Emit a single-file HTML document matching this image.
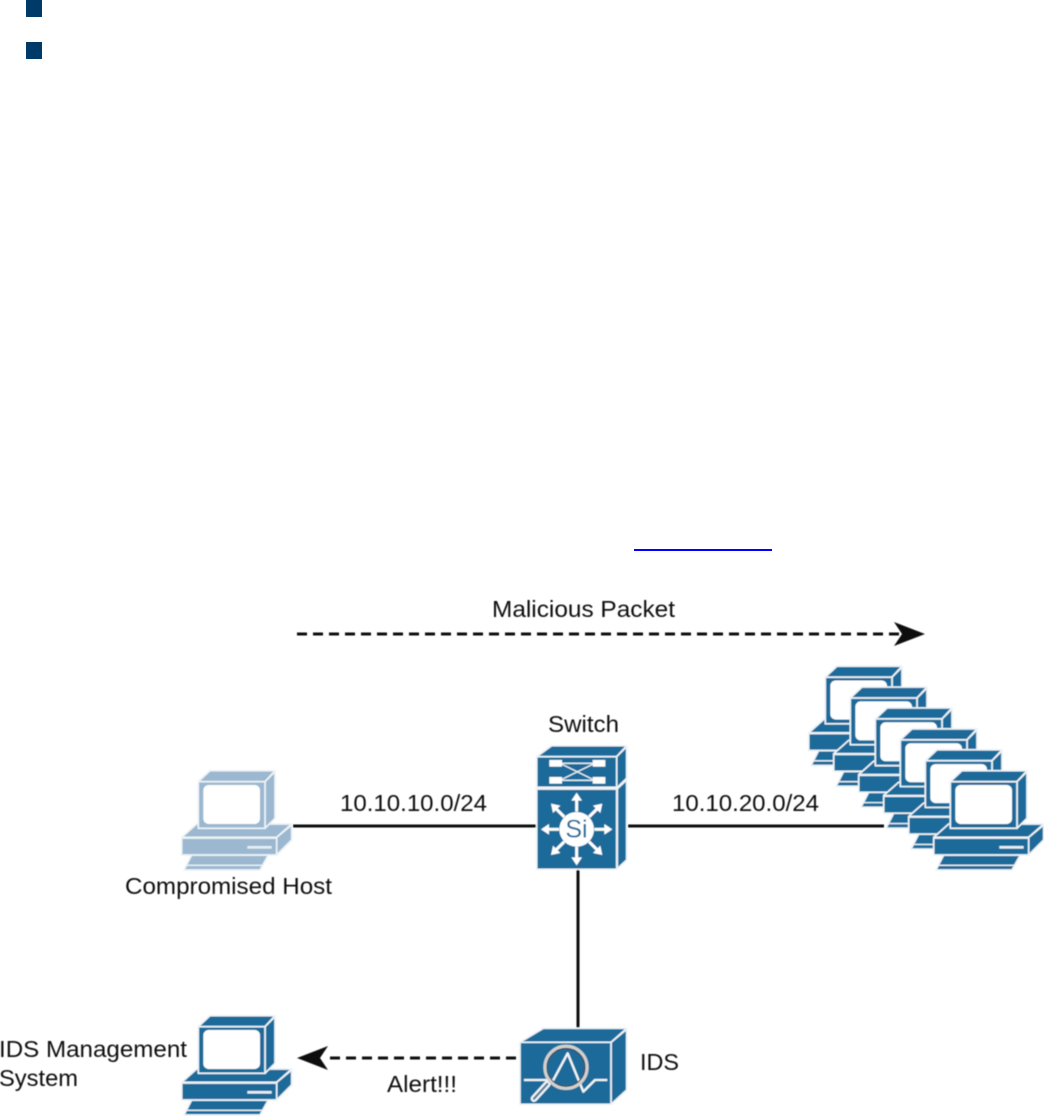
<!DOCTYPE html>
<html><head><meta charset="utf-8"><style>
html,body{margin:0;padding:0;background:#fff;width:1044px;height:1117px;overflow:hidden}
svg{display:block}
text{font-family:"Liberation Sans",sans-serif;font-size:23.5px;fill:#111}
</style></head><body>
<svg width="1044" height="1117" viewBox="0 0 1044 1117" xmlns="http://www.w3.org/2000/svg">
<defs>
<filter id="b" x="-5%" y="-5%" width="110%" height="110%"><feGaussianBlur stdDeviation="0.4"/></filter>
<g id="pc" stroke-linejoin="round">
  <polygon points="72,360 95,315 325,315 300,360" stroke-width="5"/>
  <line x1="78" y1="346" x2="306" y2="346" stroke-width="4"/>
  <polygon points="65,262 110,222 395,222 350,262" stroke-width="5"/>
  <polygon points="350,262 395,225 395,270 350,315" stroke-width="5"/>
  <rect x="65" y="264" width="285" height="51" stroke-width="5"/>
  <rect x="262" y="288" width="73" height="8" fill="#e6eef4" stroke="none"/>
  <polygon points="115,95 150,62 345,62 315,95" stroke-width="5"/>
  <polygon points="315,95 345,65 345,205 315,235" stroke-width="5"/>
  <rect x="115" y="95" width="200" height="140" stroke-width="5"/>
  <rect x="130" y="105" width="170" height="117" rx="16" fill="#fff" stroke="none"/>
</g>
</defs>

<rect x="26" y="0" width="16" height="17" fill="#003a68"/>
<rect x="26" y="42" width="16" height="17" fill="#003a68"/>
<rect x="634" y="549" width="138" height="2" fill="#0000ff"/>

<g filter="url(#b)">
<!-- connectors -->
<g stroke="#111" stroke-width="3" fill="none">
  <line x1="293" y1="826" x2="536" y2="826"/>
  <line x1="628" y1="826" x2="884" y2="826"/>
  <line x1="578" y1="868" x2="578" y2="1028"/>
  <line x1="297" y1="634" x2="900" y2="634" stroke-dasharray="10 6"/>
  <line x1="516" y1="1058" x2="326" y2="1058" stroke-dasharray="10 6"/>
</g>
<polygon points="925,634 894,622 902,634 894,646" fill="#111"/>
<polygon points="297,1058 328,1046 320,1058 328,1070" fill="#111"/>

<!-- server stack -->
<g fill="#1f6b99" stroke="#edf3f7">
  <use href="#pc" transform="translate(787,645.5) scale(.3333)"/>
  <use href="#pc" transform="translate(812,666.4) scale(.3333)"/>
  <use href="#pc" transform="translate(837,687.3) scale(.3333)"/>
  <use href="#pc" transform="translate(862,708.2) scale(.3333)"/>
  <use href="#pc" transform="translate(887,729.1) scale(.3333)"/>
  <use href="#pc" transform="translate(912,750) scale(.3333)"/>
</g>

<!-- compromised host -->
<g fill="#9bb8d0" stroke="#eef3f7">
  <use href="#pc" transform="translate(160,750) scale(.3333)"/>
</g>
<!-- IDS management -->
<g fill="#1f6b99" stroke="#edf3f7">
  <use href="#pc" transform="translate(160,995) scale(.3333)"/>
</g>

<!-- switch -->
<g transform="translate(510,700) scale(.3333)" stroke-linejoin="round">
  <g fill="#1f6b99" stroke="#edf3f7" stroke-width="5">
    <polygon points="80,170 125,137 350,137 320,170"/>
    <polygon points="320,170 350,140 350,235 320,264"/>
    <polygon points="322,266 350,240 350,480 322,506"/>
    <rect x="80" y="170" width="240" height="92"/>
    <rect x="80" y="267" width="240" height="241"/>
  </g>
  <g fill="#fff" stroke="none">
    <rect x="118" y="180" width="38" height="20"/>
    <rect x="248" y="180" width="38" height="20"/>
    <rect x="118" y="231" width="38" height="20"/>
    <rect x="248" y="231" width="38" height="20"/>
  </g>
  <g stroke="#edf3f7" stroke-width="4" fill="none">
    <line x1="156" y1="190" x2="248" y2="190"/>
    <line x1="156" y1="241" x2="248" y2="241"/>
    <line x1="156" y1="193" x2="248" y2="238"/>
    <line x1="156" y1="238" x2="248" y2="193"/>
  </g>
  <circle cx="200" cy="388" r="52" fill="#fff"/>
  <g stroke="#fff" stroke-width="9" fill="none">
    <line x1="200" y1="335" x2="200" y2="292"/>
    <line x1="200" y1="440" x2="200" y2="484"/>
    <line x1="147" y1="388" x2="107" y2="388"/>
    <line x1="253" y1="388" x2="293" y2="388"/>
    <line x1="163" y1="351" x2="135" y2="323"/>
    <line x1="237" y1="351" x2="265" y2="323"/>
    <line x1="163" y1="425" x2="135" y2="453"/>
    <line x1="237" y1="425" x2="265" y2="453"/>
  </g>
  <g fill="#fff">
    <polygon points="200,278 184,302 216,302"/>
    <polygon points="200,496 184,472 216,472"/>
    <polygon points="93,388 117,372 117,404"/>
    <polygon points="307,388 283,372 283,404"/>
    <polygon points="123,311 151,317 129,339"/>
    <polygon points="277,311 249,317 271,339"/>
    <polygon points="123,465 151,459 129,437"/>
    <polygon points="277,465 249,459 271,437"/>
  </g>
</g>
<text x="576.5" y="837.5" text-anchor="middle" style="fill:#1f6b99;font-size:25px">Si</text>

<!-- IDS -->
<g transform="translate(500,1010) scale(.3333)" stroke-linejoin="round">
  <g fill="#1f6b99" stroke="#edf3f7" stroke-width="5">
    <polygon points="60,97 130,55 380,55 333,97"/>
    <polygon points="333,97 380,58 380,240 333,283"/>
    <rect x="60" y="97" width="273" height="186"/>
  </g>
  <polyline points="72,210 160,210 203,130 250,245 285,210 322,210" fill="none" stroke="#f0f5f8" stroke-width="7"/>
  <line x1="142" y1="222" x2="102" y2="266" stroke="#f0f5f8" stroke-width="20" stroke-linecap="round"/>
  <line x1="142" y1="222" x2="102" y2="266" stroke="#5b7f99" stroke-width="7" stroke-linecap="round"/>
  <circle cx="198" cy="172" r="62" fill="none" stroke="#d0d0d0" stroke-width="12"/>
  <circle cx="198" cy="172" r="57" fill="none" stroke="#3d3d3d" stroke-width="3"/>
</g>

<!-- labels -->
<text x="492" y="617" textLength="183" lengthAdjust="spacingAndGlyphs">Malicious Packet</text>
<text x="548" y="732" textLength="71" lengthAdjust="spacingAndGlyphs">Switch</text>
<text x="340" y="811" textLength="147" lengthAdjust="spacingAndGlyphs">10.10.10.0/24</text>
<text x="672" y="811" textLength="147" lengthAdjust="spacingAndGlyphs">10.10.20.0/24</text>
<text x="125" y="894" textLength="207" lengthAdjust="spacingAndGlyphs">Compromised Host</text>
<text x="640" y="1070" textLength="39" lengthAdjust="spacingAndGlyphs">IDS</text>
<text x="387" y="1092" textLength="70" lengthAdjust="spacingAndGlyphs">Alert!!!</text>
<text x="-1" y="1057" textLength="188" lengthAdjust="spacingAndGlyphs">IDS Management</text>
<text x="-1" y="1086" textLength="79" lengthAdjust="spacingAndGlyphs">System</text>
</g>
</svg>
</body></html>
